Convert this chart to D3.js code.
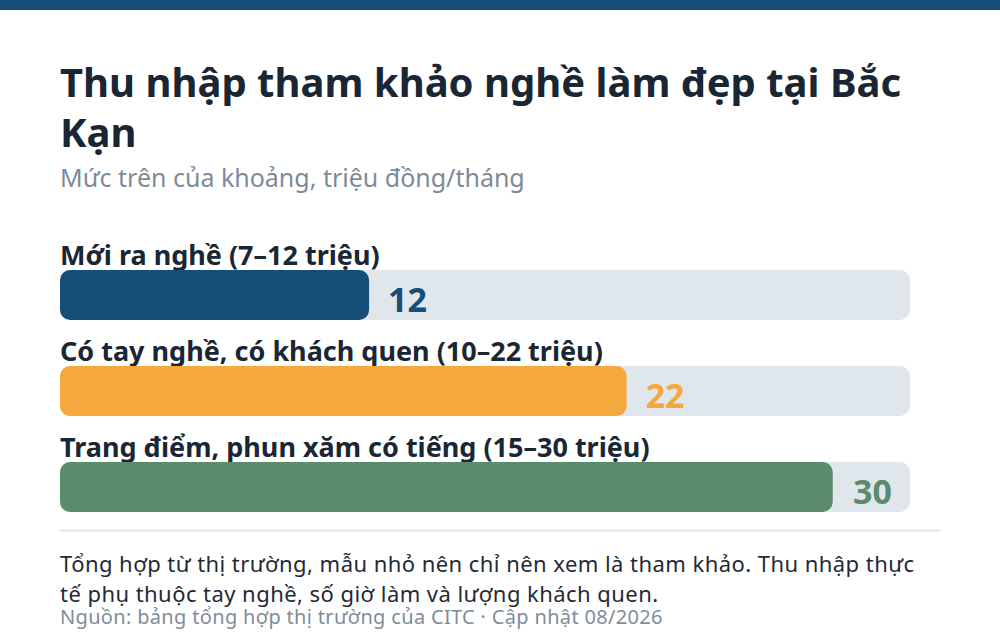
<!DOCTYPE html>
<meta charset="utf-8">
<style>
body { margin: 0; background: #fff; }
svg { display: block; font-family: "Noto Sans", sans-serif; }
</style>
<svg width="1000" height="640"></svg>
<script src="https://d3js.org/d3.v7.min.js"></script>
<script>

// data
var categories = ["Mới ra nghề (7–12 triệu)", "Có tay nghề, có khách quen (10–22 triệu)", "Trang điểm, phun xăm có tiếng (15–30 triệu)"];
var values = [12, 22, 30];
var colors = ["#154f79", "#f5a93d", "#5a8c6c"];

var titleLines = ["Thu nhập tham khảo nghề làm đẹp tại Bắc", "Kạn"];
var subtitle = "Mức trên của khoảng, triệu đồng/tháng";
var noteLines = ["Tổng hợp từ thị trường, mẫu nhỏ nên chỉ nên xem là tham khảo. Thu nhập thực", "tế phụ thuộc tay nghề, số giờ làm và lượng khách quen."];
var source = "Nguồn: bảng tổng hợp thị trường của CITC · Cập nhật 08/2026";

var svg = d3.select("svg"),
    width = +svg.attr("width"),
    height = +svg.attr("height");

var left = 60, right = 910;

// top band
svg.append("rect").attr("width", width).attr("height", 10).attr("fill", "#154f79");

svg.selectAll(".title").data(titleLines).enter().append("text")
    .attr("x", left).attr("y", function(d, i) { return 97 + i * 50; })
    .attr("font-size", 40).attr("font-weight", 700).attr("fill", "#1a2633")
    .text(function(d) { return d; });

svg.append("text").attr("x", left).attr("y", 187)
    .attr("font-size", 25).attr("fill", "#7d8b99").text(subtitle);

var x = d3.scaleLinear().domain([0, d3.max(values) * 1.1]).range([0, right - left]);
var y = d3.scaleBand().domain(categories).range([240, 528]);

var row = svg.selectAll(".row").data(categories).enter().append("g")
    .attr("transform", function(d) { return "translate(" + left + "," + y(d) + ")"; });

row.append("text").attr("y", 25)
    .attr("font-size", 27).attr("font-weight", 700).attr("fill", "#1a2633")
    .text(function(d) { return d; });

// track
row.append("rect").attr("y", 30).attr("width", x.range()[1]).attr("height", 50)
    .attr("rx", 10).attr("fill", "#dfe6ec");

row.append("rect").attr("y", 30).attr("width", function(d, i) { return x(values[i]); })
    .attr("height", 50).attr("rx", 10).attr("fill", function(d, i) { return colors[i]; });

// value after the bar, or inside the track end when no room
function tight(i) { return x(values[i]) + 80 > x.range()[1]; }

row.append("text")
    .attr("x", function(d, i) { return tight(i) ? x.range()[1] - 18 : x(values[i]) + 19; })
    .attr("text-anchor", function(d, i) { return tight(i) ? "end" : "start"; })
    .attr("y", 72).attr("font-size", 34).attr("font-weight", 700)
    .attr("fill", function(d, i) { return colors[i]; })
    .text(function(d, i) { return values[i]; });

svg.append("line").attr("x1", left).attr("x2", 940).attr("y1", 530.5).attr("y2", 530.5)
    .attr("stroke", "#dfe4ea").attr("stroke-width", 2);

svg.selectAll(".note").data(noteLines).enter().append("text")
    .attr("x", left).attr("y", function(d, i) { return 571.5 + i * 30; })
    .attr("font-size", 22).attr("letter-spacing", 0.45).attr("fill", "#1f2a36")
    .text(function(d) { return d; });

svg.append("text").attr("x", left).attr("y", 624)
    .attr("font-size", 20).attr("letter-spacing", 0.33).attr("fill", "#808d99").text(source);

</script>
